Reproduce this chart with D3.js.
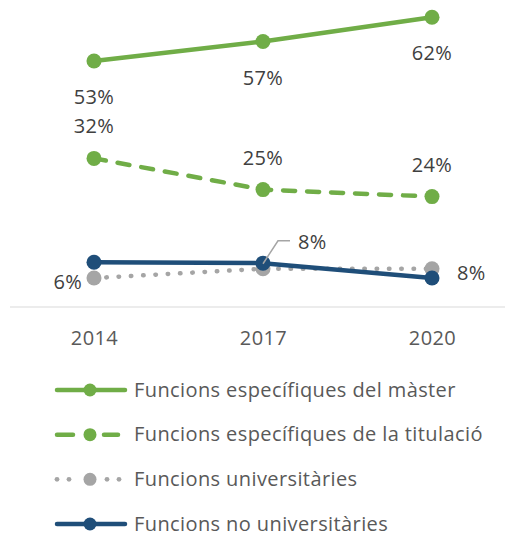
<!DOCTYPE html>
<html>
<head>
<meta charset="utf-8">
<script src="https://cdn.jsdelivr.net/npm/d3@7"></script>
<style>
  body { margin: 0; background: #ffffff; }
  text { font-family: "Open Sans", Lato, sans-serif; }
</style>
</head>
<body>
<div id="vis"></div>
<script>
// Frame constants
const FRAME_WIDTH = 506;
const FRAME_HEIGHT = 535;

// Data (percent)
const YEARS = ["2014", "2017", "2020"];
const SERIES_NAMES = [
  "Funcions específiques del màster",
  "Funcions específiques de la titulació",
  "Funcions universitàries",
  "Funcions no universitàries"
];
const MASTER = [52.6, 56.8, 62];
const TITULACIO = [31.7, 25, 23.5];
const UNIVERSITARIES = [6, 8, 8];
const NO_UNIVERSITARIES = [9.4, 9.2, 6];

// Styles per series
const COLORS = ["#70AD47", "#70AD47", "#A5A5A5", "#1F4E79"];
const DASHES = [null, "12,12", "0.5,11.8", null];

const SERIES = [MASTER, TITULACIO, UNIVERSITARIES, NO_UNIVERSITARIES];

const FRAME = d3.select("#vis")
  .append("svg")
    .attr("width", FRAME_WIDTH)
    .attr("height", FRAME_HEIGHT);

// Scales
const X_SCALE = d3.scalePoint()
  .domain(YEARS)
  .range([94, 432]);

const Y_SCALE = d3.scaleLinear()
  .domain([0, 62])
  .range([306, 17.3]);

// Baseline axis line
FRAME.append("line")
  .attr("x1", 10)
  .attr("x2", 505)
  .attr("y1", Y_SCALE(0) + 1)
  .attr("y2", Y_SCALE(0) + 1)
  .attr("stroke", "#d9d9d9")
  .attr("stroke-width", 1);

// Year labels via axis
const xAxis = FRAME.append("g")
  .attr("transform", "translate(0," + 345 + ")")
  .call(d3.axisBottom(X_SCALE).tickSize(0).tickPadding(0));
xAxis.select(".domain").remove();
xAxis.selectAll("text")
  .attr("dy", 0)
  .attr("y", 0)
  .style("font-family", "'Open Sans', sans-serif")
  .style("font-size", "20px")
  .style("letter-spacing", "0.4px")
  .attr("fill", "#595959");

const line = d3.line()
  .x((d, i) => X_SCALE(YEARS[i]))
  .y((d) => Y_SCALE(d));

// Lines and markers
SERIES.forEach((values, s) => {
  const g = FRAME.append("g");
  g.append("path")
    .datum(values)
    .attr("d", line)
    .attr("fill", "none")
    .attr("stroke", COLORS[s])
    .attr("stroke-width", 4.5)
    .attr("stroke-linecap", "round")
    .attr("stroke-dasharray", DASHES[s]);
  g.selectAll("circle")
    .data(values)
    .enter()
    .append("circle")
      .attr("cx", (d, i) => X_SCALE(YEARS[i]))
      .attr("cy", (d) => Y_SCALE(d))
      .attr("r", 7.5)
      .attr("fill", COLORS[s]);
});

// Data labels
const fmt = (v) => Math.round(v) + "%";
const LABEL_COLOR = "#404040";

function addLabel(x, y, txt, anchor) {
  FRAME.append("text")
    .attr("x", x)
    .attr("y", y)
    .attr("text-anchor", anchor)
    .style("font-size", "20px")
    .style("letter-spacing", "0.3px")
    .attr("fill", LABEL_COLOR)
    .text(txt);
}

MASTER.forEach((v, i) => {
  addLabel(X_SCALE(YEARS[i]), Y_SCALE(v) + 43, fmt(v), "middle");
});
TITULACIO.forEach((v, i) => {
  addLabel(X_SCALE(YEARS[i]), Y_SCALE(v) - 25, fmt(v), "middle");
});

// Funcions universitàries labels: left, callout, right
addLabel(X_SCALE(YEARS[0]) - 12, Y_SCALE(UNIVERSITARIES[0]) + 11, fmt(UNIVERSITARIES[0]), "end");
const cx = X_SCALE(YEARS[1]);
const cy = Y_SCALE(UNIVERSITARIES[1]);
FRAME.append("polyline")
  .attr("points", [[cx, cy - 5], [cx + 15, cy - 28], [cx + 27, cy - 28]].map((p) => p.join(",")).join(" "))
  .attr("fill", "none")
  .attr("stroke", "#A5A5A5")
  .attr("stroke-width", 1.5);
addLabel(cx + 35, cy - 20, fmt(UNIVERSITARIES[1]), "start");
addLabel(X_SCALE(YEARS[2]) + 25, Y_SCALE(UNIVERSITARIES[2]) + 11, fmt(UNIVERSITARIES[2]), "start");

// Legend
const LEGEND_Y = d3.scalePoint()
  .domain(SERIES_NAMES)
  .range([390, 524]);

const legend = FRAME.append("g");
SERIES_NAMES.forEach((name, s) => {
  const y = LEGEND_Y(name);
  const item = legend.append("g");
  if (s === 1) {
    [[57, 73], [104, 118]].forEach((seg) => {
      item.append("line")
        .attr("x1", seg[0]).attr("x2", seg[1])
        .attr("y1", y).attr("y2", y)
        .attr("stroke", COLORS[s])
        .attr("stroke-width", 4.5)
        .attr("stroke-linecap", "round");
    });
  } else if (s === 2) {
    [57, 69, 107, 119].forEach((x) => {
      item.append("circle")
        .attr("cx", x).attr("cy", y).attr("r", 2.4)
        .attr("fill", COLORS[s]);
    });
  } else {
    item.append("line")
      .attr("x1", 57).attr("x2", 125)
      .attr("y1", y).attr("y2", y)
      .attr("stroke", COLORS[s])
      .attr("stroke-width", 4.5)
      .attr("stroke-linecap", "round");
  }
  item.append("circle")
    .attr("cx", 90).attr("cy", y).attr("r", 6.5)
    .attr("fill", COLORS[s]);
  item.append("text")
    .attr("x", 134)
    .attr("y", y + 6.5)
    .style("font-size", "20px")
    .style("letter-spacing", "0.4px")
    .attr("fill", "#595959")
    .text(name);
});
</script>
</body>
</html>
